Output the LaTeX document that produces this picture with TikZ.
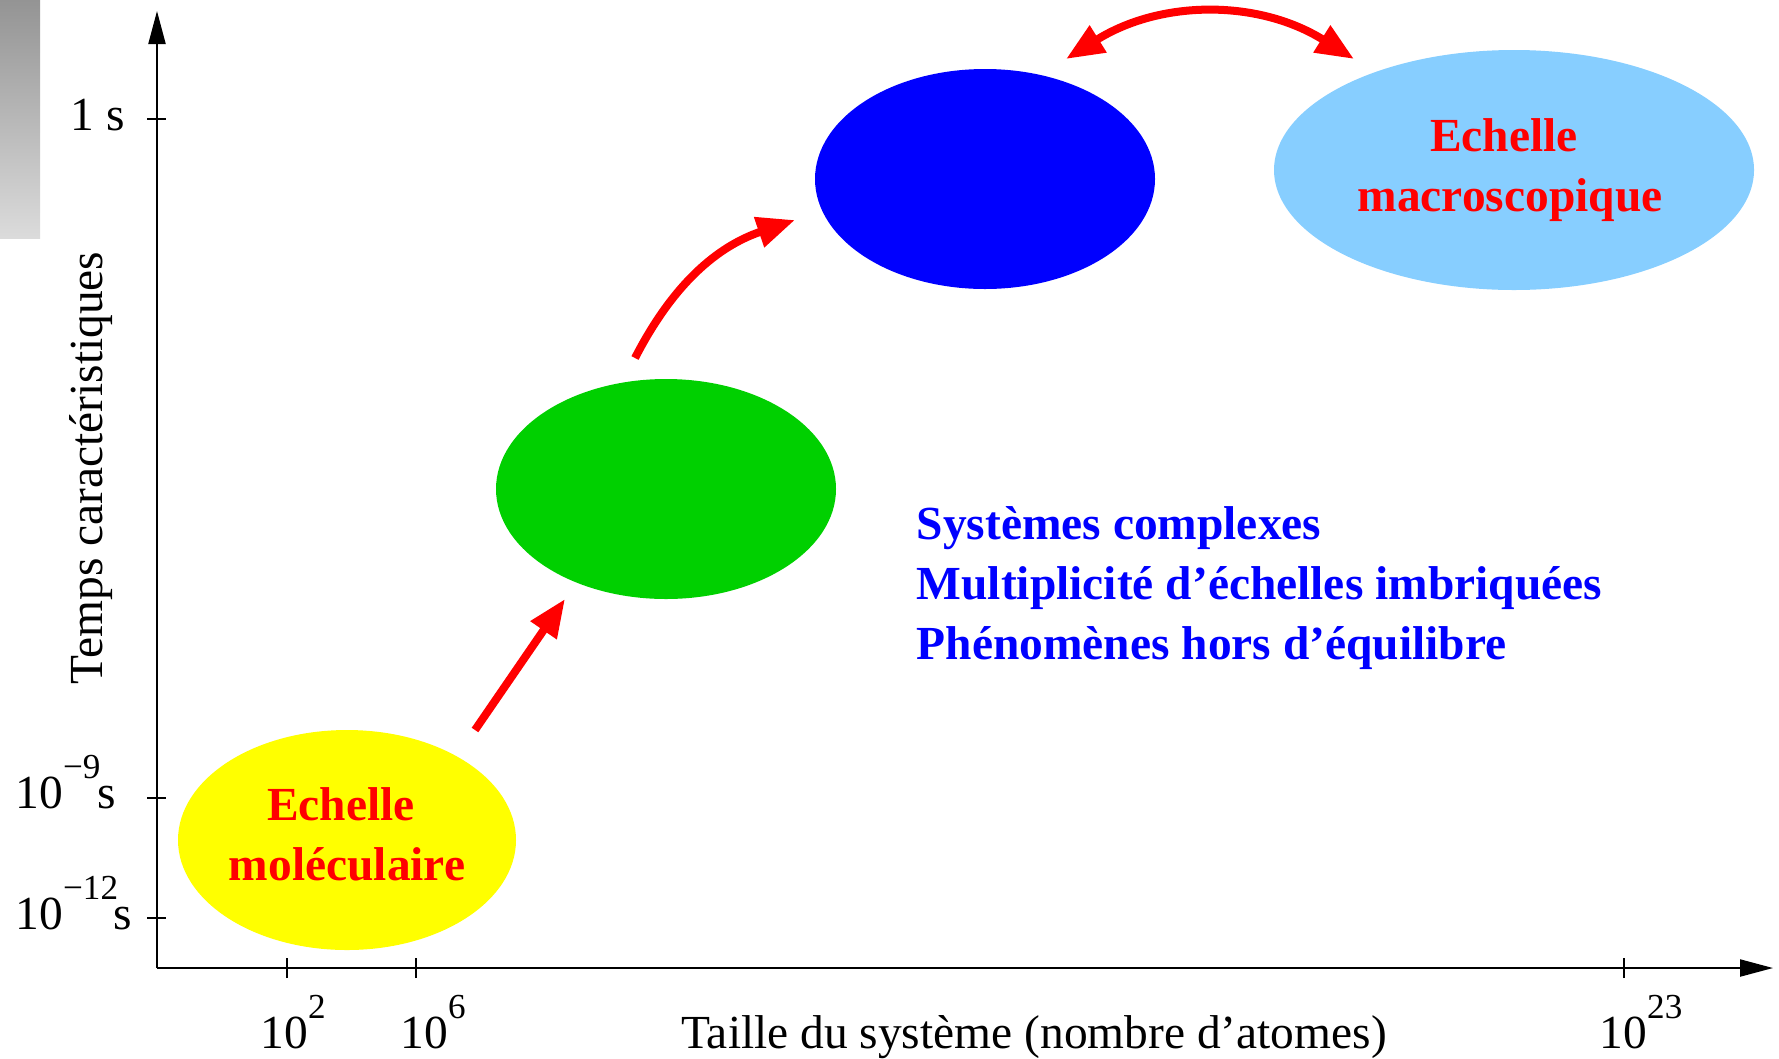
\documentclass[tikz,border=0pt]{standalone}
\usepackage{fontspec}
\setmainfont{Liberation Serif}
\usepackage{tikz}
\usetikzlibrary{shapes,shapes.geometric,arrows.meta,positioning,calc}
\definecolor{jaune}{RGB}{255,255,0}
\definecolor{vert}{RGB}{0,208,0}
\definecolor{bleu}{RGB}{0,0,255}
\definecolor{bleuclair}{RGB}{135,206,255}
\newcommand{\taille}{\fontsize{13.5}{17}\selectfont}
\newcommand{\dix}[1]{10\raisebox{8.5pt}{\fontsize{10}{12}\selectfont #1}}
\tikzset{
  % Axes: thin black line, filled triangle tip
  axe/.style={line width=0.6pt, -{Triangle[length=3.3mm,width=1.7mm]}},
  graduation/.style={line width=0.5pt},
  etiquette/.style={font=\taille, inner sep=0pt},
  % Scale bubbles: plain filled ellipses
  bulle/.style={ellipse, draw=none, inner sep=0pt, minimum width=3.4cm,
                minimum height=2.2cm, font=\taille\bfseries, text=red, align=center},
  % Red arrows between scales
  fleche/.style={red, line width=0.8mm, -{Triangle[length=3.8mm,width=3mm]}},
  fleche-double/.style={red, line width=0.8mm,
                {Triangle[length=3.8mm,width=3mm]}-{Triangle[length=3.8mm,width=3mm]}},
  % Blue remarks
  remarque/.style={font=\taille\bfseries, text=bleu, align=left, inner sep=0pt}
}
\begin{document}
\begin{tikzpicture}
\useasboundingbox (0,0) rectangle (17.79,10.58);

% ============== Grey bar (top left) ==============
\shade[top color=black!42, bottom color=black!14] (0,8.20) rectangle (0.40,10.58);

% ============== Axes ==============
\coordinate (O) at (1.57,0.90);
\coordinate (ytop) at (1.57,10.47);
\coordinate (xend) at (17.73,0.90);
\draw[axe] (O) -- (ytop);
\draw[axe] (O) -- (xend);

% time ticks
\foreach \y/\nom in {9.39/un, 2.60/nano, 1.40/pico}
  \draw[graduation] (1.47,\y) -- (1.66,\y) coordinate (t\nom);
\node[etiquette, anchor=base west] (lun) at (0.70,9.28) {1 s};
\node[etiquette, anchor=base west] (lnano) at (0.15,2.50) {\dix{−9}\hspace{-0.03cm}s};
\node[etiquette, anchor=base west] (lpico) at (0.15,1.29) {\dix{−12}\hspace{-0.05cm}s};

% size ticks
\foreach \x/\nom in {2.87/deux, 4.16/six, 16.24/avog}
  \draw[graduation] (\x,0.80) -- (\x,1.00) coordinate (g\nom);
\node[etiquette, anchor=base west] (ldeux) at (2.60,0.10) {\dix{2}};
\node[etiquette, anchor=base west] (lsix) at (4.00,0.10) {\dix{6}};
\node[etiquette, anchor=base west] (lavog) at (15.99,0.10) {\dix{23}};

% axis titles
\node[etiquette, anchor=base] (xtitre) at (10.34,0.10) {Taille du système (nombre d’atomes)};
\node[etiquette, rotate=90] (ytitre) at (0.91,5.90) {Temps caractéristiques};

% ============== Scales ==============
\node[bulle, fill=jaune, minimum width=3.38cm] (mol) at (3.47,2.18)
  {Echelle\hspace*{0.12cm}\\moléculaire\rule[-0.12cm]{0pt}{1pt}};
\node[bulle, fill=vert] (meso) at (6.66,5.69) {};
\node[bulle, fill=bleu] (sup) at (9.85,8.79) {};
\node[bulle, fill=bleuclair, minimum width=4.8cm, minimum height=2.4cm] (macro) at (15.14,8.88)
  {Echelle\hspace*{0.2cm}\\macroscopique\hspace*{0.08cm}};

% arrow ends
\coordinate (f1a) at (4.75,3.28);
\coordinate (f1b) at (5.65,4.59);
\coordinate (f2a) at (6.35,7.00);
\coordinate (f2b) at (7.95,8.38);
\coordinate (f3a) at (10.66,9.99);
\coordinate (f3b) at (13.54,9.99);

\draw[fleche] (f1a) -- (f1b);
\draw[fleche] (f2a) to[bend left=22] (f2b);
\draw[fleche-double] (f3a) to[bend left=32] (f3b);

% ============== Remarks ==============
\node[remarque, anchor=west] (rem) at (9.16,4.70)
  {Systèmes complexes\\Multiplicité d’échelles imbriquées\\Phénomènes hors d’équilibre};

\end{tikzpicture}
\end{document}
